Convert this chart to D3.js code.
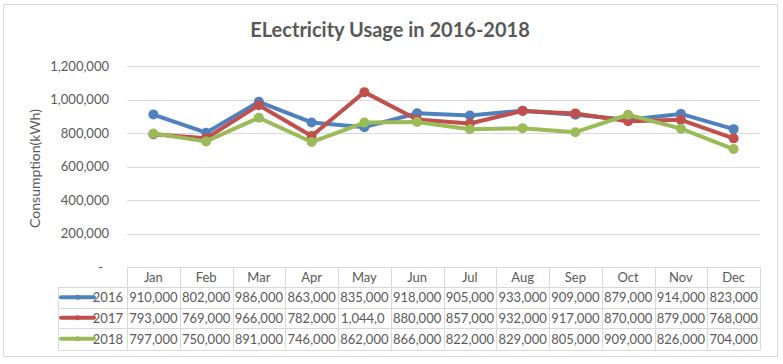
<!DOCTYPE html>
<html><head><meta charset="utf-8">
<script src="https://cdn.jsdelivr.net/npm/d3@7"></script>
<style>body{margin:0;background:#fff}svg{display:block}text{font-family:Lato,"Open Sans",sans-serif;fill:#595959}</style>
</head><body><svg id="c" width="783" height="364"></svg>
<script>
const months=["Jan","Feb","Mar","Apr","May","Jun","Jul","Aug","Sep","Oct","Nov","Dec"];
const seriesNames=["2016","2017","2018"];
const v2016=[910000,802000,986000,863000,835000,918000,905000,933000,909000,879000,914000,823000];
const v2017=[793000,769000,966000,782000,1044000,880000,857000,932000,917000,870000,879000,768000];
const v2018=[797000,750000,891000,746000,862000,866000,822000,829000,805000,909000,826000,704000];
const yTicks=[0,200000,400000,600000,800000,1000000,1200000];
const colors=["#4F81BD","#C0504D","#9BBB59"];
const chartTitle="ELectricity Usage in 2016-2018";
const yTitle="Consumption(kWh)";

const series=[v2016,v2017,v2018].map((v,i)=>({name:seriesNames[i],values:v,color:colors[i]}));
const svg=d3.select("#c");
svg.append("rect").attr("x",3.5).attr("y",4.5).attr("width",774).attr("height",352).attr("fill","#fff").attr("stroke","#D9D9D9");
svg.append("text").attr("x",390).attr("y",37).attr("text-anchor","middle").attr("font-size",20).attr("font-weight","bold").text(chartTitle);

const pL=127,pR=760,pT=66,pB=267;
const x=d3.scaleBand().domain(months).range([pL,pR]);
const y=d3.scaleLinear().domain([0,1200000]).range([pB,pT]);
const fmt=d3.format(",");

svg.append("g").selectAll("line").data(yTicks.filter(d=>d>0)).join("line")
 .attr("x1",pL).attr("x2",pR).attr("y1",d=>Math.round(y(d))+0.5).attr("y2",d=>Math.round(y(d))+0.5)
 .attr("stroke","#D9D9D9");
const ya=svg.append("g").attr("transform",`translate(${pL-18},0)`)
 .call(d3.axisLeft(y).tickValues(yTicks).tickSize(0).tickPadding(0).tickFormat(d=>d===0?"-":fmt(d)));
ya.select(".domain").remove();
ya.selectAll("text").attr("font-size",13).attr("font-family","Lato,'Open Sans',sans-serif").attr("fill","#595959");
ya.selectAll(".tick").filter(d=>d===0).select("text").attr("dx",-6);
svg.append("text").attr("transform",`translate(40,${(pT+pB)/2+2}) rotate(-90)`).attr("text-anchor","middle").attr("font-size",14).text(yTitle);

const line=d3.line().x((d,i)=>x(months[i])+x.bandwidth()/2).y(d=>y(d));
series.forEach(s=>{
  svg.append("path").attr("d",line(s.values)).attr("fill","none").attr("stroke",s.color).attr("stroke-width",4).attr("stroke-linejoin","round").attr("stroke-linecap","round");
  svg.append("g").selectAll("circle").data(s.values).join("circle")
   .attr("cx",(d,i)=>x(months[i])+x.bandwidth()/2).attr("cy",d=>y(d)).attr("r",5).attr("fill",s.color);
});

const rowH=[20,20.5,20.5,21.5];
const rowY=[pB];for(let i=1;i<=4;i++)rowY.push(rowY[i-1]+rowH[i-1]);
const legL=58;
const tb=svg.append("g");
const gs="#D9D9D9";
rowY.forEach((ry,i)=>{tb.append("line").attr("x1",i===0?pL:legL).attr("x2",pR).attr("y1",Math.round(ry)+0.5).attr("y2",Math.round(ry)+0.5).attr("stroke",gs);});
const xs=months.map(m=>x(m)).concat([pR]);
xs.forEach(xx=>tb.append("line").attr("x1",Math.round(xx)+0.5).attr("x2",Math.round(xx)+0.5).attr("y1",rowY[0]).attr("y2",rowY[4]).attr("stroke",gs));
tb.append("line").attr("x1",legL+0.5).attr("x2",legL+0.5).attr("y1",rowY[1]).attr("y2",rowY[4]).attr("stroke",gs);
months.forEach(m=>tb.append("text").attr("x",x(m)+x.bandwidth()/2).attr("y",rowY[0]+15).attr("text-anchor","middle").attr("font-size",13).text(m));
series.forEach((s,r)=>{
  const cy=(rowY[r+1]+rowY[r+2])/2;
  tb.append("line").attr("x1",61).attr("x2",94).attr("y1",cy).attr("y2",cy).attr("stroke",s.color).attr("stroke-width",4).attr("stroke-linecap","round");
  tb.append("circle").attr("cx",77.5).attr("cy",cy).attr("r",2.5).attr("fill",s.color);
  tb.append("text").attr("x",123).attr("y",cy+5).attr("text-anchor","end").attr("font-size",13).text(s.name);
  s.values.forEach((v,i)=>{
    const cx=x(months[i]);
    const full=fmt(v);
    const t=tb.append("text").attr("x",cx+x.bandwidth()/2).attr("y",cy+5).attr("text-anchor","middle").attr("font-size",13).text(full);
    const avail=x.bandwidth()-4;
    if(t.node().getComputedTextLength()>avail){
      let n=full.length;
      while(n>1&&t.text(full.slice(0,n)).node().getComputedTextLength()>avail)n--;
      t.attr("text-anchor","start").attr("x",cx+3);
    }
  });
});
</script></body></html>
